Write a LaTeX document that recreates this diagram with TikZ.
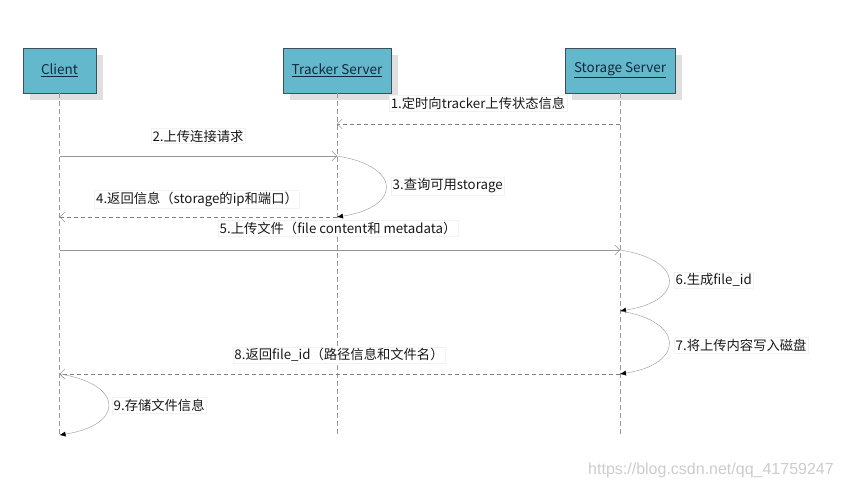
\documentclass[tikz,border=0pt]{standalone}
\usepackage{fontspec}
\setmainfont{Noto Sans CJK SC}
\newfontfamily\markfont{Liberation Sans}
\usetikzlibrary{arrows.meta, shadows}
\definecolor{boxteal}{RGB}{99,184,204}
\definecolor{boxline}{RGB}{60,80,90}
\definecolor{boxtext}{RGB}{20,40,60}
\definecolor{msggray}{RGB}{150,150,150}
\tikzset{
  lifebox/.style={%
    draw=boxline,
    fill=boxteal,
    minimum height=45pt,
    inner sep=0,
    text=boxtext,
    font=\fontsize{13.5}{15}\selectfont,
    drop shadow={shadow xshift=7pt, shadow yshift=-7pt, fill=gray!25, opacity=1},
  },
  lifeline/.style={draw=gray!80, dash pattern=on 5pt off 3pt},
  msg/.style={draw=msggray, -{Straight Barb[length=5pt,width=10pt]}},
  reply/.style={msg, draw=gray, dash pattern=on 4pt off 3pt},
  selfcall/.style={draw=msggray, -{Latex[length=6pt,width=5pt,color=black]}},
  msglabel/.style={%
    fill=white,
    draw=gray!10,
    inner sep=1.5pt,
    text=black!90,
    font=\fontsize{13.3}{15}\selectfont,
  }
}
\newcommand\SelfMsg[2]{% from, to
  \draw [selfcall] (#1) .. controls +(65,10) and +(65,-10) .. (#2);
}
\begin{document}
\begin{tikzpicture}[x=1pt, y=-1pt]
    \useasboundingbox (0,0) rectangle (842,489);
    % lifelines
    \node[lifebox, minimum width=73pt] (client) at (59.5,70.5) {\underline{Client}};
    \node[lifebox, minimum width=108pt] (tracker) at (337,70.5) {\underline{Tracker Server}};
    \node[lifebox, minimum width=110pt] (storage) at (620,70.5) {\underline{Storage Server}};
    \coordinate (client-end) at (59.5,437);
    \coordinate (tracker-end) at (337,437);
    \coordinate (storage-end) at (620,437);
    \draw[lifeline] (client) -- (client-end);
    \draw[lifeline] (tracker) -- (tracker-end);
    \draw[lifeline] (storage) -- (storage-end);
    % points on the lifelines
    \coordinate (s1) at (620,124);
    \coordinate (t1) at (337,124);
    \coordinate (c2) at (59.5,156);
    \coordinate (t2) at (337,156);
    \coordinate (t4) at (337,217);
    \coordinate (c4) at (59.5,217);
    \coordinate (c5) at (59.5,250);
    \coordinate (s5) at (620,250);
    \coordinate (s6) at (620,311);
    \coordinate (s8) at (620,374);
    \coordinate (c8) at (59.5,374);
    \coordinate (c9) at (59.5,435);
    % messages
    \draw[reply] (s1) -- (t1);
    \draw[msg] (c2) -- (t2);
    \SelfMsg{t2}{t4}
    \draw[reply] (t4) -- (c4);
    \draw[msg] (c5) -- (s5);
    \SelfMsg{s5}{s6}
    \SelfMsg{s6}{s8}
    \draw[reply] (s8) -- (c8);
    \SelfMsg{c8}{c9}
    % labels
    \node[msglabel] (l1) at (478,103) {1.定时向tracker上传状态信息};
    \node[msglabel] (l2) at (198,136) {2.上传连接请求};
    \node[msglabel, anchor=west] (l3) at (391,186) {3.查询可用storage};
    \node[msglabel] (l4) at (197,199) {4.返回信息（storage的ip和端口）};
    \node[msglabel] (l5) at (338,228) {5.上传文件（file content和 metadata）};
    \node[msglabel, anchor=west] (l6) at (674,280) {6.生成file\_id};
    \node[msglabel, anchor=west] (l7) at (674,345) {7.将上传内容写入磁盘};
    \node[msglabel] (l8) at (339,355) {8.返回file\_id（路径信息和文件名）};
    \node[msglabel, anchor=west] (l9) at (112,405) {9.存储文件信息};
    \node[text=gray!40, font=\fontsize{16}{18}\markfont] (mark) at (711,470) {https://blog.csdn.net/qq\_41759247};
\end{tikzpicture}
\end{document}
